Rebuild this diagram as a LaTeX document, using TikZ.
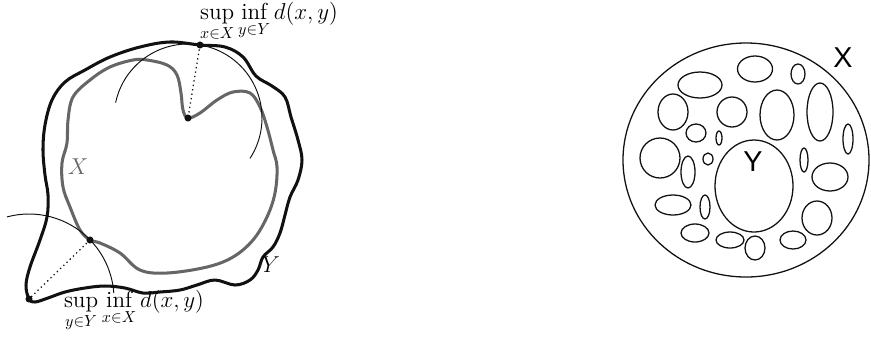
\documentclass[tikz,border=0pt]{standalone}
\usepackage{fontspec}
\usepackage{amsmath}
\usetikzlibrary{calc}
\definecolor{InkBlack}{HTML}{111111}
\definecolor{CurveGray}{HTML}{666666}
\newfontfamily\SketchFont{Liberation Sans}
\newcommand{\MathFont}{\fontsize{14.5pt}{16pt}\selectfont}

\begin{document}
\begin{tikzpicture}[x=0.022cm, y=-0.022cm,
  setY/.style={InkBlack, line width=1.9pt, line join=round},
  setX/.style={CurveGray, line width=1.9pt, line join=round},
  thinarc/.style={InkBlack, line width=0.6pt},
  distline/.style={InkBlack, line width=0.8pt, dotted},
  blob/.style={InkBlack, line width=0.8pt}]
  \useasboundingbox (0,0) rectangle (871,337);
  % outer curve Y
  \draw[setY] plot[smooth cycle, tension=0.6] coordinates {
    (29,299) (26,285) (30,267) (40,240) (47,217) (48,195) (45,175) (43,150)
    (45,125) (52,100) (65,82) (85,70) (110,57) (140,47) (170,42) (200,45)
    (225,47) (243,57) (256,76) (272,86) (285,97) (291,117) (298,140) (302,160)
    (298,180) (290,197) (285,215) (280,233) (273,247) (263,257) (258,270)
    (250,280) (235,285) (215,280) (197,285) (180,290) (160,292) (143,293)
    (125,288) (105,286) (85,288) (65,292) (48,298) (35,302)};
  % inner curve X
  \draw[setX] plot[smooth cycle, tension=0.6] coordinates {
    (147,60) (167,65) (177,75) (181,93) (183,110) (188,118) (200,113)
    (217,100) (233,92) (250,93) (260,107) (267,127) (273,150) (277,167)
    (275,193) (267,217) (253,240) (233,257) (207,267) (167,273) (140,270)
    (120,253) (100,243) (90,240) (80,230) (70,207) (63,187) (62,163)
    (67,143) (68,120) (73,97) (90,80) (110,67) (133,60)};
  % points
  \coordinate (ptop) at (200,45);
  \coordinate (pdip) at (188,118);
  \coordinate (pleft) at (90,240);
  \coordinate (ptip) at (29,299);
  % distance arcs
  \draw[thinarc] (pdip) ++(192:74) arc[start angle=192, end angle=393, radius=74];
  \draw[thinarc] (ptip) ++(255:85) arc[start angle=255, end angle=356, radius=85];
  \draw[distline] (ptop) -- (pdip);
  \draw[distline] (pleft) -- (ptip);
  \foreach \p in {ptop,pdip,pleft,ptip}
    \fill[InkBlack] (\p) circle (2.2pt);
  % labels
  \node[font=\MathFont] (suptop) at (269,22)
    {$\displaystyle\sup_{x\in X}\inf_{y\in Y} d(x,y)$};
  \node[font=\MathFont] (supbot) at (134,311)
    {$\displaystyle\sup_{y\in Y}\inf_{x\in X} d(x,y)$};
  \node[text=CurveGray, font=\MathFont] (nameX) at (78,167) {$X$};
  \node[font=\MathFont] (nameY) at (271,265) {$Y$};
  % right picture
  \draw[blob] (746,160) ellipse[x radius=123, y radius=117];
  \foreach \cx/\cy/\rx/\ry in {
      755/69/17.5/13, 798/74/7/10, 700/85/22/13, 820/112/13/29,
      732/112/15/15, 777/115/17/25, 673/112/15/18, 696/133/10/9,
      719/138/3/7, 848/139/5/15, 660/158/20/20, 708/159/5/6,
      688/172/7/16, 754/186/39/46, 804/160/4/12, 830/177/18/14,
      673/205/18/10, 705/207/5/12, 817/218/15/17, 695/233/14/9,
      730/240/14/8, 755/248/10/12, 793/240/13/9}
    \draw[blob] (\cx,\cy) ellipse[x radius=\rx, y radius=\ry];
  \node[font={\SketchFont\fontsize{18pt}{20pt}\selectfont}] (bigX) at (843,58) {X};
  \node[font={\SketchFont\fontsize{18pt}{20pt}\selectfont}] (bigY) at (753,162) {Y};
\end{tikzpicture}
\end{document}
